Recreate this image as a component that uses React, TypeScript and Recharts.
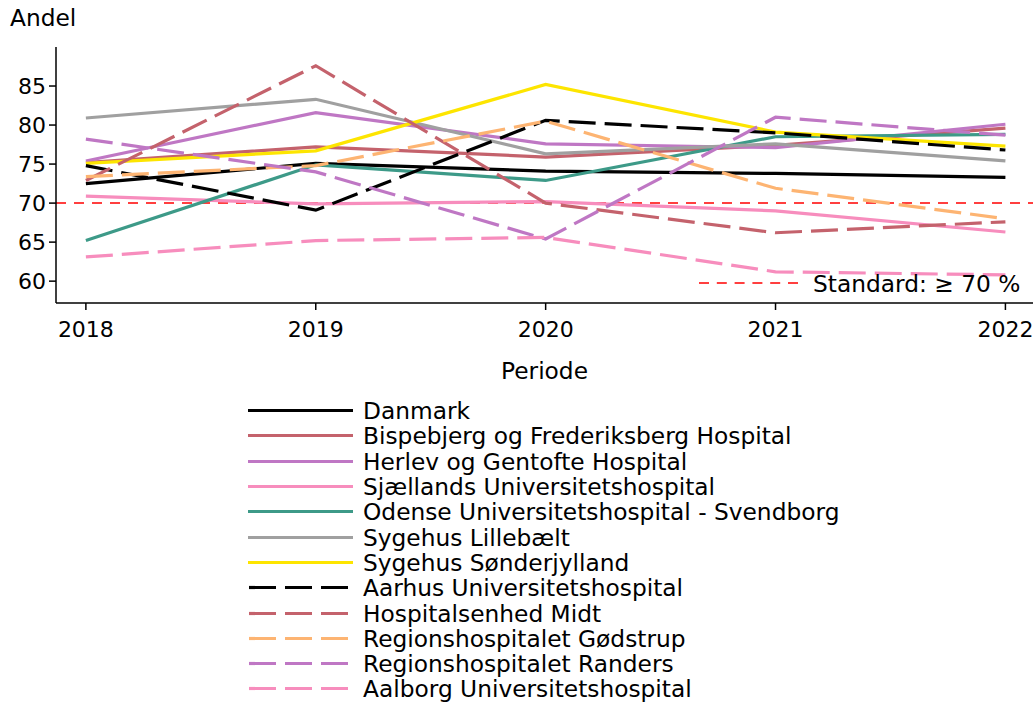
import { CartesianGrid, Line, LineChart, ReferenceLine, XAxis, YAxis } from "recharts"

const years = [2018, 2019, 2020, 2021, 2022]
const yTicks = [60, 65, 70, 75, 80, 85]

const danmark = [72.5, 75.1, 74.1, 73.8, 73.3]
const bispebjerg = [75.2, 77.2, 75.9, 77.4, 79.6]
const herlev = [75.4, 81.6, 77.6, 77.1, 80.1]
const sjaelland = [70.9, 69.9, 70.2, 69.0, 66.3]
const odense = [65.2, 74.9, 72.9, 78.5, 78.8]
const lillebaelt = [80.9, 83.3, 76.3, 77.6, 75.4]
const soenderjylland = [75.1, 76.7, 85.2, 79.1, 77.3]
const aarhus = [74.8, 69.1, 80.6, 79.0, 76.8]
const midt = [72.9, 87.6, 70.0, 66.2, 67.6]
const goedstrup = [73.4, 74.8, 80.5, 71.9, 68.0]
const randers = [78.2, 74.0, 65.4, 81.0, 78.7]
const aalborg = [63.1, 65.2, 65.6, 61.2, 60.8]

const series = [
  { key: "danmark", name: "Danmark", values: danmark, color: "#000000", dashed: false },
  { key: "bispebjerg", name: "Bispebjerg og Frederiksberg Hospital", values: bispebjerg, color: "#c4626c", dashed: false },
  { key: "herlev", name: "Herlev og Gentofte Hospital", values: herlev, color: "#bf77c4", dashed: false },
  { key: "sjaelland", name: "Sjællands Universitetshospital", values: sjaelland, color: "#f78dbd", dashed: false },
  { key: "odense", name: "Odense Universitetshospital - Svendborg", values: odense, color: "#3d9a88", dashed: false },
  { key: "lillebaelt", name: "Sygehus Lillebælt", values: lillebaelt, color: "#a0a0a0", dashed: false },
  { key: "soenderjylland", name: "Sygehus Sønderjylland", values: soenderjylland, color: "#fde500", dashed: false },
  { key: "aarhus", name: "Aarhus Universitetshospital", values: aarhus, color: "#000000", dashed: true },
  { key: "midt", name: "Hospitalsenhed Midt", values: midt, color: "#c4626c", dashed: true },
  { key: "goedstrup", name: "Regionshospitalet Gødstrup", values: goedstrup, color: "#fdb472", dashed: true },
  { key: "randers", name: "Regionshospitalet Randers", values: randers, color: "#bf77c4", dashed: true },
  { key: "aalborg", name: "Aalborg Universitetshospital", values: aalborg, color: "#f78dbd", dashed: true },
]

const data = years.map((year, i) => {
  const row: Record<string, number> = { year }
  series.forEach((s) => {
    row[s.key] = s.values[i]
  })
  return row
})

const font = "'DejaVu Sans', sans-serif"
const dash = "27 9"
const textSize = 23.3

function SeriesLegend() {
  return (
    <div style={{ position: "absolute", left: 0, top: 398 }}>
      {series.map((s) => (
        <div key={s.key} style={{ display: "flex", alignItems: "center", height: 25.3 }}>
          <svg width={354} height={25} style={{ flex: "none" }}>
            <line
              x1={248}
              x2={353}
              y1={12.5}
              y2={12.5}
              stroke={s.color}
              strokeWidth={3.2}
              strokeDasharray={s.dashed ? dash : undefined}
              strokeDashoffset={s.dashed ? -1 : undefined}
            />
          </svg>
          <span style={{ marginLeft: 9, fontFamily: font, fontSize: textSize, color: "#000", whiteSpace: "nowrap", lineHeight: "25px" }}>
            {s.name}
          </span>
        </div>
      ))}
    </div>
  )
}

export default function App() {
  return (
    <div style={{ position: "absolute", left: 0, top: 0, width: 1033, height: 704, background: "#fff" }}>
      <div style={{ position: "absolute", left: 10, top: 4, fontFamily: font, fontSize: textSize, lineHeight: "28px" }}>Andel</div>
      <LineChart width={1033} height={390} data={data} margin={{ top: 47, right: 0, left: 0, bottom: 0 }}>
        <CartesianGrid stroke="none" />
        <XAxis
          dataKey="year"
          type="number"
          domain={[2017.87, 2022.12]}
          ticks={years}
          height={87}
          tickSize={7}
          tickMargin={11}
          axisLine={{ stroke: "#000", strokeWidth: 1.5 }}
          tickLine={{ stroke: "#000", strokeWidth: 1.5 }}
          tick={{ fill: "#000", fontSize: 22, fontFamily: font }}
          allowDataOverflow
          label={{ value: "Periode", position: "insideBottom", offset: 11, fill: "#000", fontSize: textSize, fontFamily: font }}
        />
        <YAxis
          type="number"
          domain={[57.2, 90]}
          ticks={yTicks}
          width={56}
          tickSize={7}
          tickMargin={3}
          axisLine={{ stroke: "#000", strokeWidth: 1.5 }}
          tickLine={{ stroke: "#000", strokeWidth: 1.5 }}
          tick={{ fill: "#000", fontSize: 22, fontFamily: font }}
          allowDataOverflow
        />
        <ReferenceLine y={70} stroke="#ff0000" strokeWidth={1.5} strokeDasharray="10 8" />
        {series.map((s) => (
          <Line
            key={s.key}
            dataKey={s.key}
            name={s.name}
            type="linear"
            stroke={s.color}
            strokeWidth={3.2}
            strokeDasharray={s.dashed ? dash : undefined}
            dot={false}
            activeDot={false}
            isAnimationActive={false}
          />
        ))}
      </LineChart>
      <div style={{ position: "absolute", left: 699, top: 270, display: "flex", alignItems: "center", height: 26 }}>
        <svg width={100} height={26} style={{ flex: "none" }}>
          <line x1={0} x2={99} y1={13} y2={13} stroke="#ff0000" strokeWidth={1.5} strokeDasharray="10 7.8" />
        </svg>
        <span style={{ marginLeft: 14, fontFamily: font, fontSize: textSize, whiteSpace: "nowrap" }}>Standard: ≥ 70 %</span>
      </div>
      <SeriesLegend />
    </div>
  )
}
